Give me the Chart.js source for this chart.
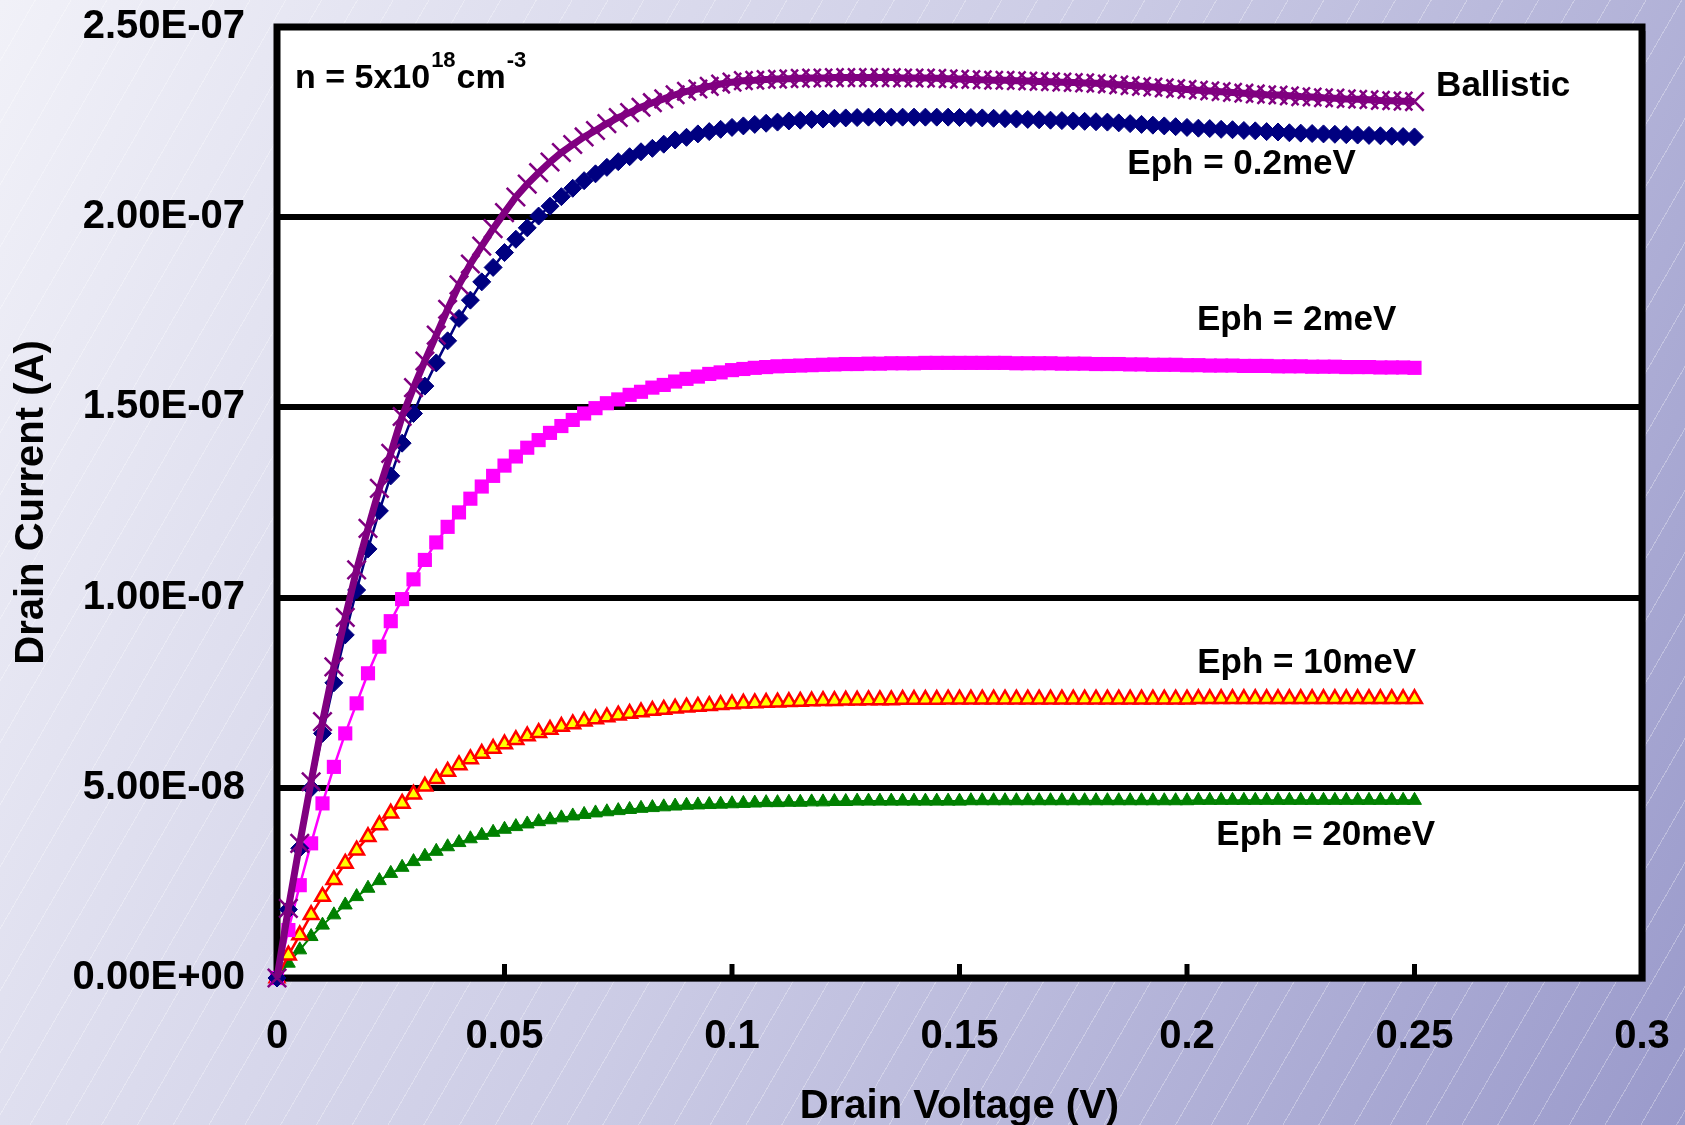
<!DOCTYPE html>
<html>
<head>
<meta charset="utf-8">
<script src="https://cdn.jsdelivr.net/npm/chart.js@4/dist/chart.umd.min.js"></script>
<style>
html,body{margin:0;padding:0;}
body{width:1685px;height:1125px;overflow:hidden;
background:
 repeating-linear-gradient(120deg, rgba(255,255,255,0) 0px, rgba(255,255,255,0) 30px, rgba(255,255,255,0.3) 30px, rgba(255,255,255,0.3) 31px),
 linear-gradient(115deg, #F1F1F8 0%, #CBCBE5 50%, #9A9ACB 100%);}
#wrap{position:relative;width:1685px;height:1125px;}
</style>
</head>
<body>
<div id="wrap"><canvas id="c"></canvas></div>
<script>
// ---- DATA (drain current in units of 1e-7 A) ----
const voltage = [0,0.0025,0.005,0.0075,0.01,0.0125,0.015,0.0175,0.02,0.0225,0.025,0.0275,0.03,0.0325,0.035,0.0375,0.04,0.0425,0.045,0.0475,0.05,0.0525,0.055,0.0575,0.06,0.0625,0.065,0.0675,0.07,0.0725,0.075,0.0775,0.08,0.0825,0.085,0.0875,0.09,0.0925,0.095,0.0975,0.1,0.1025,0.105,0.1075,0.11,0.1125,0.115,0.1175,0.12,0.1225,0.125,0.1275,0.13,0.1325,0.135,0.1375,0.14,0.1425,0.145,0.1475,0.15,0.1525,0.155,0.1575,0.16,0.1625,0.165,0.1675,0.17,0.1725,0.175,0.1775,0.18,0.1825,0.185,0.1875,0.19,0.1925,0.195,0.1975,0.2,0.2025,0.205,0.2075,0.21,0.2125,0.215,0.2175,0.22,0.2225,0.225,0.2275,0.23,0.2325,0.235,0.2375,0.24,0.2425,0.245,0.2475,0.25];

const ballistic = [0,0.183,0.354,0.516,0.674,0.818,0.948,1.073,1.182,1.287,1.379,1.476,1.552,
 1.622,1.690,1.758,1.822,1.877,1.924,1.970,2.012,2.053,2.087,2.117,2.145,2.170,2.191,2.211,2.228,2.246,2.262,2.275,2.289,2.301,2.311,2.322,2.331,2.337,2.344,2.350,2.355,2.359,
 2.360,2.362,2.363,2.364,2.365,2.366,2.366,2.367,2.367,2.367,2.367,2.367,2.367,2.366,2.366,2.366,2.365,2.364,2.363,2.362,2.361,2.360,2.360,2.359,2.358,2.357,2.356,2.355,2.354,2.353,2.352,2.350,2.348,2.346,2.344,2.342,2.340,2.338,2.336,2.334,2.332,2.330,2.328,2.326,2.324,2.322,2.321,2.319,2.317,2.316,2.314,2.313,2.311,2.310,2.309,2.307,2.306,2.305,2.304];

const eph02 = [0,0.180,0.341,0.499,0.643,0.776,0.902,1.020,1.128,1.228,1.320,1.406,1.484,
 1.556,1.617,1.675,1.734,1.782,1.830,1.868,1.907,1.942,1.972,2.003,2.029,2.054,2.076,2.096,2.114,2.131,2.146,2.159,2.172,2.181,2.192,2.203,2.210,2.219,2.225,2.231,2.236,2.240,
 2.244,2.247,2.250,2.253,2.255,2.257,2.258,2.260,2.261,2.262,2.263,2.263,2.263,2.263,2.263,2.263,2.263,2.263,2.262,2.262,2.261,2.260,2.259,2.258,2.257,2.256,2.255,2.254,2.253,2.252,2.251,2.250,2.248,2.246,2.244,2.242,2.240,2.238,2.236,2.234,2.233,2.231,2.230,2.228,2.227,2.225,2.224,2.222,2.221,2.220,2.219,2.218,2.217,2.216,2.215,2.214,2.213,2.212,2.211];

const eph2 = [0,0.126,0.244,0.354,0.459,0.555,0.643,0.722,0.801,0.871,0.938,0.996,1.048,1.099,1.145,1.186,1.224,1.260,1.292,1.320,1.347,1.371,1.394,1.414,1.433,1.451,1.467,1.484,1.498,1.511,1.521,1.533,1.541,1.552,1.559,1.568,1.575,1.581,1.588,1.592,1.598,
 1.601,1.604,1.606,1.608,1.609,1.610,1.611,1.612,1.613,1.614,1.614,1.615,1.615,1.616,1.616,1.616,1.617,1.617,1.617,1.617,1.617,1.617,1.617,1.617,1.616,1.616,1.616,1.616,1.615,1.615,1.615,1.614,1.614,1.614,1.613,1.613,1.612,1.612,1.612,1.611,1.611,1.610,1.610,1.610,1.609,1.609,1.609,1.608,1.608,1.608,1.607,1.607,1.607,1.606,1.606,1.606,1.605,1.605,1.605,1.604];

const eph10 = [0,0.060,0.113,0.166,0.214,0.258,0.301,0.336,0.371,0.402,0.433,0.459,0.483,0.504,0.524,0.543,0.560,0.576,0.590,0.603,0.615,0.626,0.636,0.645,0.653,0.661,0.668,0.675,0.681,0.686,0.691,0.695,0.699,0.703,
 0.706,0.709,0.712,0.714,0.716,0.718,0.720,0.722,0.723,0.724,0.725,0.726,0.727,0.728,0.729,0.729,0.730,
 0.730,0.731,0.731,0.731,0.732,0.732,0.732,0.732,0.733,0.733,
 0.733,0.733,0.733,0.733,0.733,0.733,0.733,0.733,0.733,0.733,0.733,0.733,0.733,0.733,0.733,0.733,0.733,0.733,0.733,0.733,
 0.734,0.734,0.734,0.734,0.734,0.734,0.734,0.734,0.734,0.734,0.734,0.734,0.734,0.734,0.734,0.734,0.734,0.734,0.734,0.734];

const eph20 = [0,0.039,0.074,0.109,0.139,0.166,0.192,0.214,0.236,0.256,0.275,0.291,0.306,0.320,0.333,0.345,0.356,0.366,0.375,0.383,0.391,0.398,0.405,0.411,0.416,0.421,0.426,0.430,0.434,0.437,0.440,0.443,0.446,0.448,
 0.450,0.452,0.454,0.455,0.456,0.457,0.458,0.459,0.460,0.461,0.461,0.462,0.462,0.463,0.463,0.464,0.464,
 0.465,0.465,0.465,0.465,0.465,0.465,0.465,0.465,0.465,0.465,
 0.466,0.466,0.466,0.466,0.466,0.466,0.466,0.466,0.466,0.466,0.466,0.466,0.466,0.466,0.466,0.466,0.466,0.466,0.466,0.466,
 0.467,0.467,0.467,0.467,0.467,0.467,0.467,0.467,0.467,0.467,0.467,0.467,0.467,0.467,0.467,0.467,0.467,0.467,0.467,0.467];

const seriesNames = ['Ballistic','Eph = 0.2meV','Eph = 2meV','Eph = 10meV','Eph = 20meV'];
const CURRENT_UNIT = 1e-7;
const yMax = 2.5e-7, yStep = 5e-8;
const xMax = 0.3, xStep = 0.05;

// ---- chart construction ----
const FONT = "'Liberation Sans', Arial, Helvetica, sans-serif";
Chart.defaults.font.family = FONT;
Chart.defaults.font.weight = 'bold';
Chart.defaults.color = '#000';

function pts(arr){ return voltage.map((v,i)=>({x:v, y:arr[i]*CURRENT_UNIT})); }

function fmtExp(v){
  if (Math.abs(v) < 1e-20) return '0.00E+00';
  const s = v.toExponential(2);
  const parts = s.split('e');
  const sign = parts[1][0] === '-' ? '-' : '+';
  const d = parts[1].replace(/^[+-]/,'').padStart(2,'0');
  return parts[0] + 'E' + sign + d;
}

const labelSpots = [
  {i:0, x:0.2695, y:2.345e-7},
  {i:1, x:0.2120, y:2.140e-7},
  {i:2, x:0.2241, y:1.730e-7},
  {i:3, x:0.2263, y:0.828e-7},
  {i:4, x:0.2305, y:0.376e-7}
];

const framePlugin = {
  id:'frame',
  beforeDraw(chart){
    const {ctx, chartArea:a} = chart;
    ctx.save();
    ctx.fillStyle = 'rgba(70,70,90,0.45)';
    ctx.fillRect(a.left+4, a.top+4, a.right-a.left, a.bottom-a.top);
    ctx.fillStyle = '#fff';
    ctx.fillRect(a.left, a.top, a.right-a.left, a.bottom-a.top);
    ctx.restore();
  },
  beforeDatasetsDraw(chart){
    const {ctx, chartArea:a, scales:{x}} = chart;
    ctx.save();
    ctx.strokeStyle = '#000';
    ctx.lineWidth = 7;
    ctx.strokeRect(a.left, a.top, a.right-a.left, a.bottom-a.top);
    ctx.lineWidth = 5;
    x.ticks.forEach(t=>{
      const px = x.getPixelForValue(t.value);
      ctx.beginPath(); ctx.moveTo(px, a.bottom); ctx.lineTo(px, a.bottom-14); ctx.stroke();
    });
    ctx.restore();
  },
  afterDatasetsDraw(chart){
    const {ctx, scales:{x,y}} = chart;
    ctx.save();
    ctx.fillStyle = '#000';
    ctx.textAlign = 'center';
    ctx.textBaseline = 'middle';
    ctx.font = "bold 35px " + FONT;
    labelSpots.forEach(s=>{
      ctx.fillText(seriesNames[s.i], x.getPixelForValue(s.x), y.getPixelForValue(s.y));
    });
    // concentration note
    let px = x.getPixelForValue(0.00395), py = y.getPixelForValue(2.340e-7);
    ctx.textAlign = 'left';
    ctx.textBaseline = 'alphabetic';
    const parts = [['n = 5x10',34,0],['18',22,-21],['cm',34,0],['-3',22,-21]];
    parts.forEach(p=>{
      ctx.font = 'bold ' + p[1] + 'px ' + FONT;
      ctx.fillText(p[0], px, py + p[2]);
      px += ctx.measureText(p[0]).width + 1;
    });
    ctx.restore();
  }
};

const datasets = [
  {label:seriesNames[0], data:pts(ballistic), borderColor:'#800080', borderWidth:7,
   pointStyle:'crossRot', pointRadius:13, pointBorderWidth:2.5, pointBorderColor:'#800080', pointBackgroundColor:'#800080'},
  {label:seriesNames[1], data:pts(eph02), borderColor:'#000080', borderWidth:2.5,
   pointStyle:'rectRot', pointRadius:9, pointBorderWidth:1, pointBorderColor:'#000080', pointBackgroundColor:'#000080'},
  {label:seriesNames[2], data:pts(eph2), borderColor:'#FF00FF', borderWidth:2.5,
   pointStyle:'rect', pointRadius:10, pointBorderWidth:0, pointBorderColor:'#FF00FF', pointBackgroundColor:'#FF00FF'},
  {label:seriesNames[3], data:pts(eph10), borderColor:'#FF0000', borderWidth:2.5,
   pointStyle:'triangle', pointRadius:8.5, pointBorderWidth:2.5, pointBorderColor:'#FF0000', pointBackgroundColor:'#FFFF00'},
  {label:seriesNames[4], data:pts(eph20), borderColor:'#008000', borderWidth:2,
   pointStyle:'triangle', pointRadius:8, pointBorderWidth:1, pointBorderColor:'#008000', pointBackgroundColor:'#008000'}
].map(d=>Object.assign(d,{tension:0, clip:false, fill:false, pointHoverRadius:d.pointRadius}));

new Chart(document.getElementById('c'), {
  type:'line',
  data:{datasets},
  plugins:[framePlugin],
  options:{
    animation:false,
    responsive:true,
    maintainAspectRatio:false,
    layout:{padding:{top:27, right:43, left:0, bottom:0}},
    plugins:{legend:{display:false}, tooltip:{enabled:false}},
    events:[],
    scales:{
      x:{
        type:'linear', min:0, max:xMax,
        ticks:{stepSize:xStep, autoSkip:false, maxRotation:0, padding:35,
          font:{size:40, weight:'bold'}, color:'#000',
          callback:v=>String(Math.round(v*100)/100)},
        grid:{display:false, drawTicks:false},
        border:{display:false},
        title:{display:true, text:'Drain Voltage (V)', color:'#000',
          font:{size:40, weight:'bold', lineHeight:0.9}, padding:{top:0, bottom:0}},
        afterFit:s=>{ s.height = 147; s.paddingLeft = 0; s.paddingRight = 0; }
      },
      y:{
        type:'linear', min:0, max:yMax,
        ticks:{stepSize:yStep, autoSkip:false, padding:32,
          font:{size:40, weight:'bold'}, color:'#000', callback:v=>fmtExp(v)},
        grid:{color:'#000', lineWidth:6, drawTicks:false},
        border:{display:false},
        title:{display:true, text:'Drain Current (A)', color:'#000',
          font:{size:40, weight:'bold', lineHeight:1}, padding:{top:12, bottom:0}},
        afterFit:s=>{ s.width = 277; s.paddingTop = 0; s.paddingBottom = 0; }
      }
    }
  }
});
</script>
</body>
</html>
